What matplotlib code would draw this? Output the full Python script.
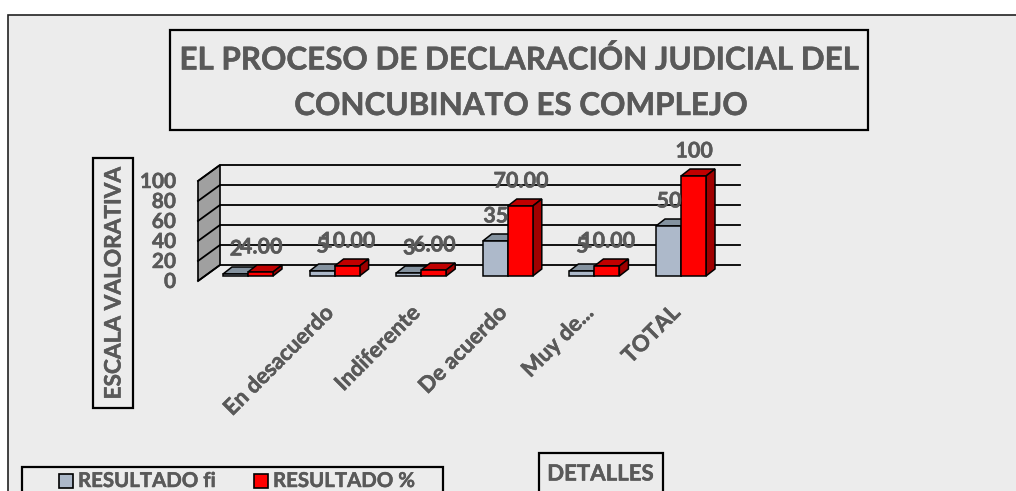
import matplotlib
matplotlib.use('Agg')
import matplotlib.pyplot as plt
import matplotlib.patheffects as pe
from matplotlib.patches import Polygon, Rectangle

plt.rcParams['font.family'] = ['Lato', 'DejaVu Sans']
plt.rcParams['font.weight'] = 'bold'

categories = ['', 'En desacuerdo', 'Indiferente', 'De acuerdo', 'Muy de...', 'TOTAL']
fi_values = [2, 5, 3, 35, 5, 50]
pct_values = [4, 10, 6, 70, 10, 100]
fi_labels = ['2', '5', '3', '35', '5', '50']
pct_labels = ['4.00', '10.00', '6.00', '70.00', '10.00', '100']
y_ticks = [0, 20, 40, 60, 80, 100]

W, H = 1016, 491
TEXT = '#595959'
BG = '#ECECEC'
STEP = 86.6      # pixels between groups
BASE_X = 248     # pixel of first group centre
BASE_Y = 276     # pixel of value 0 on the bars
THICK = [pe.withStroke(linewidth=0.35, foreground=TEXT)]  # lato bold is a bit thin


def dx(px):
    return px / STEP


def X(px):
    return (px - BASE_X) / STEP


def Y(py):
    return BASE_Y - py


def box(x0, y0, x1, y1, lw=1.6):
    ax.add_patch(Rectangle((X(x0), Y(y1)), dx(x1 - x0), y1 - y0, fc='none', ec='black', lw=lw, zorder=6, clip_on=False))


def label(x, y, s, size, **kw):
    kw.setdefault('ha', 'center')
    kw.setdefault('va', 'center')
    ax.text(x, y, s, fontsize=size, color=TEXT, zorder=8, path_effects=THICK, **kw)


def draw_bars(xs, vals, front, top, side, z):
    w = dx(25)
    d = dx(9)
    h = 7
    for x, v in zip(xs, vals):
        ax.add_patch(Polygon([(x, v), (x + w, v), (x + w + d, v + h), (x + d, v + h)], fc=top, ec='black', lw=1.1, zorder=z))
        ax.add_patch(Polygon([(x + w, 0), (x + w + d, h), (x + w + d, v + h), (x + w, v)], fc=side, ec='black', lw=1.1, zorder=z))
    ax.bar(xs, vals, width=w, align='edge', color=front, edgecolor='black', linewidth=1.1, zorder=z + 0.5)


fig = plt.figure(figsize=(W / 100, H / 100), dpi=100, facecolor='white')
ax = fig.add_axes([0, 0, 1, 1])
ax.set_xlim(X(0), X(W))
ax.set_ylim(Y(H), Y(0))
ax.axis('off')

# chart area
ax.add_patch(Rectangle((X(8.5), Y(H + 5)), dx(W), H + 5 - 15, fc=BG, ec='#222222', lw=1.2, zorder=0))

# side wall and back wall lines
wall_l, wall_r = 198, 220
ax.add_patch(Polygon([(X(wall_l), Y(281)), (X(wall_r), Y(265)), (X(wall_r), Y(165)), (X(wall_l), Y(181))],
                     fc='#A0A0A0', ec='black', lw=1.2, zorder=1))
for t in y_ticks:
    ax.plot([X(wall_l), X(wall_r), X(740)], [t - 5, t + 11, t + 11], color='black', lw=1.3, zorder=1.5, solid_joinstyle='miter')
    label(X(176), t - 6, str(t), 15, ha='right')

xs = list(range(len(categories)))
fi_x = [x - dx(25) for x in xs]
draw_bars(fi_x, fi_values, '#ADB9CA', '#84929F', '#6E7B8A', 2)
draw_bars(xs, pct_values, '#FF0000', '#C00000', '#A00000', 3)

for x, v, s in zip(fi_x, fi_values, fi_labels):
    label(x + dx(13), v + 25, s, 15.5)
for x, v, s in zip(xs, pct_values, pct_labels):
    label(x + dx(13), v + 25, s, 15.5)

for x, s in zip(xs, categories):
    label(x - dx(4), Y(309), s, 16, rotation=45, rotation_mode='anchor', ha='right')

# title and other boxes
box(170, 30, 868, 130)
label(X(519), Y(60), 'EL PROCESO DE DECLARACIÓN JUDICIAL DEL', 22.6)
label(X(521), Y(106), 'CONCUBINATO ES COMPLEJO', 22.6)

box(93, 158, 133, 408)
label(X(114), Y(283), 'ESCALA VALORATIVA', 16.3, rotation=90)

box(539, 453, 663, H + 5)
label(X(600.5), Y(474), 'DETALLES', 16)

# legend
box(22, 467, 443, H + 5)
for px, col, name in [(59, '#ADB9CA', 'RESULTADO fi'), (254, '#FF0000', 'RESULTADO %')]:
    ax.add_patch(Rectangle((X(px), Y(488)), dx(14), 14, fc=col, ec='black', lw=1.2, zorder=7))
    label(X(px + 19), Y(481), name, 14.7, ha='left')

fig.savefig('out.png', dpi=100)
